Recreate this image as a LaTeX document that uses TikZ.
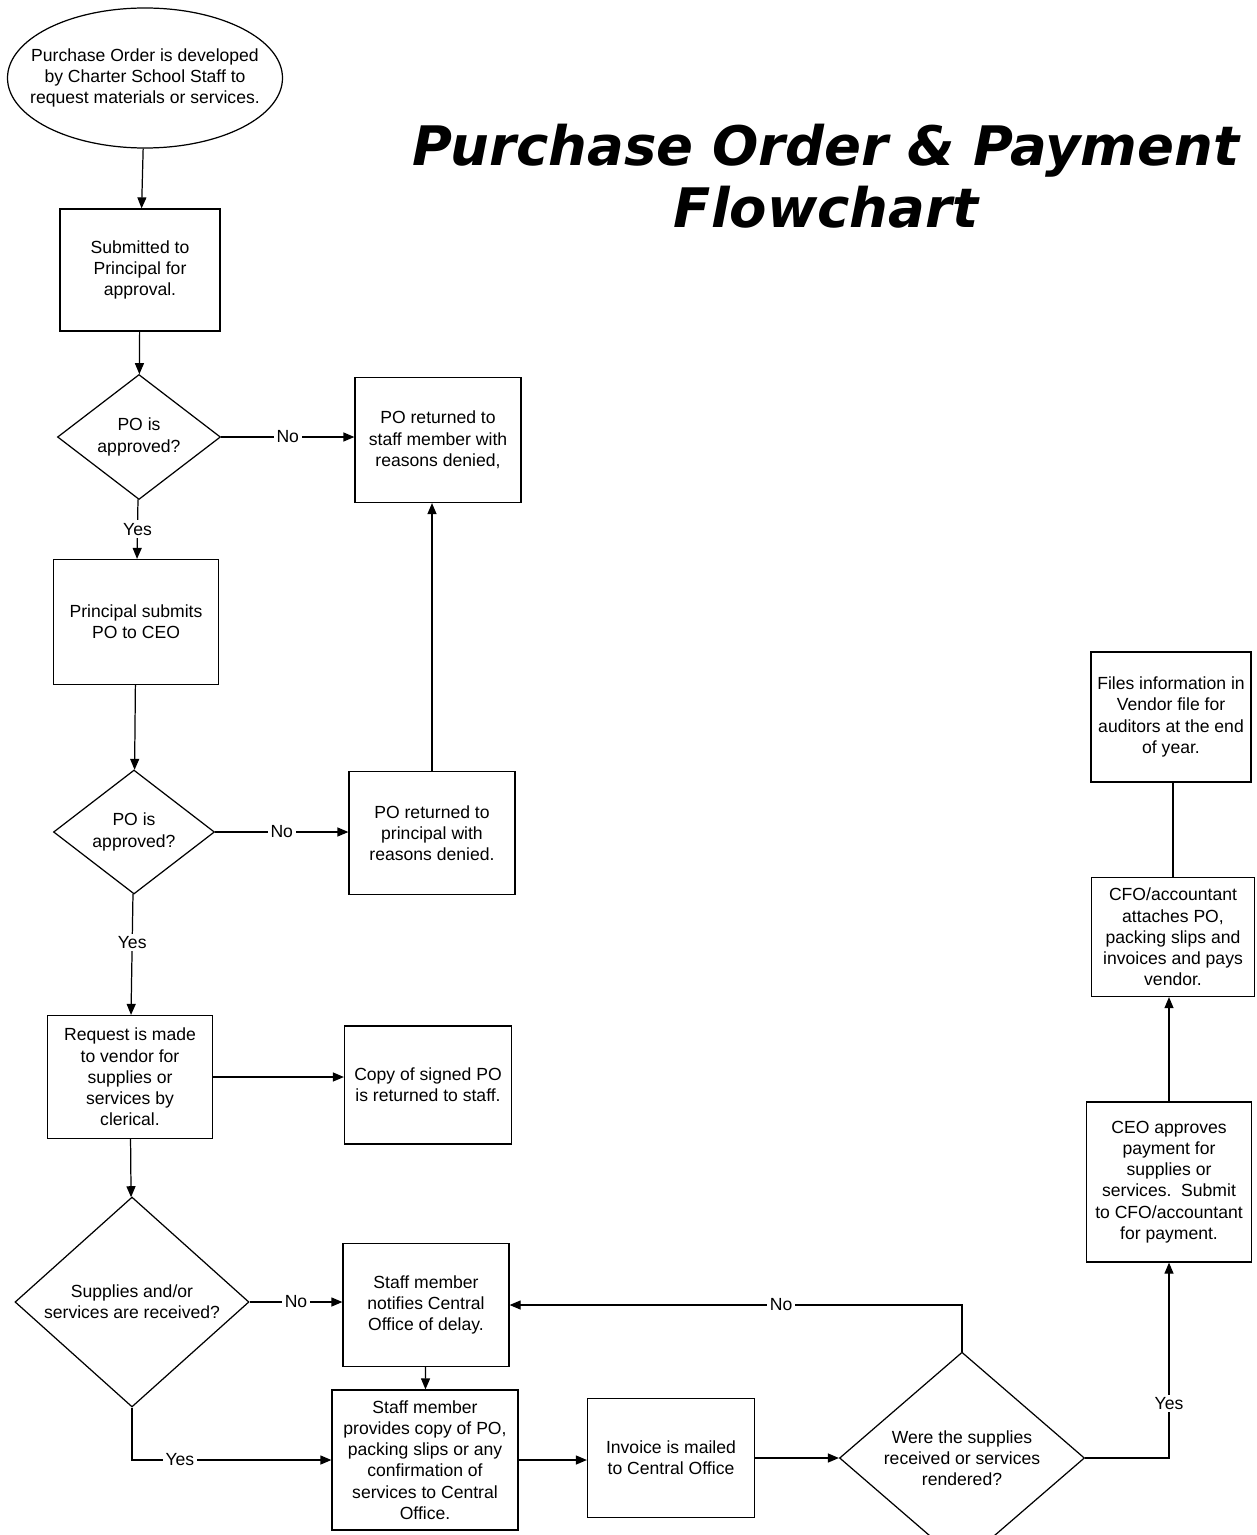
\documentclass[tikz,border=0pt]{standalone}
\usepackage{fontspec}
\setmainfont{Liberation Sans}
\newfontfamily\titlefont{DejaVu Sans}
\usetikzlibrary{arrows.meta,shapes.geometric}
\tikzset{
	box/.style={draw, line width=0.7pt, rectangle, align=center, inner sep=2pt, font=\fontsize{10}{12.1}\selectfont},
	terminal/.style={draw, line width=0.7pt, ellipse, align=center, inner xsep=-10pt, inner ysep=0pt, font=\fontsize{10}{12.1}\selectfont},
	decision/.style={draw, line width=0.7pt, diamond, align=center, inner sep=0pt, font=\fontsize{10}{12.1}\selectfont},
	flow/.style={line width=0.7pt, -{Triangle[length=2.2mm,width=1.8mm]}},
	answer/.style={fill=white, inner sep=1.5pt, font=\fontsize{10}{12}\selectfont}
}

\begin{document}
\begin{tikzpicture}[x=0.2mm, y=-0.2mm]
		%%%%% START %%%%%
		\useasboundingbox (0,0) rectangle (1256,1535);
		
		\node[font=\titlefont\fontsize{31}{35}\selectfont\bfseries\itshape, align=center] (title) at (826,176) {Purchase Order \& Payment\\Flowchart};
		
		\node[terminal, minimum width=55mm, minimum height=28mm] (start) at (145,78) {Purchase Order is developed\\by Charter School Staff to\\request materials or services.};
		
		\node[box, minimum width=32mm, minimum height=24.4mm] (submit) at (140,270) {Submitted to\\Principal for\\approval.};
		\node[decision, minimum width=32.6mm, minimum height=25mm] (okone) at (139,437) {PO is\\approved?};
		\node[box, minimum width=33.2mm, minimum height=25mm] (backstaff) at (438,440) {PO returned to\\staff member with\\reasons denied,};
		
		\node[box, minimum width=33mm, minimum height=25mm] (toceo) at (136,622) {Principal submits\\PO to CEO};
		\node[decision, minimum width=32.2mm, minimum height=24.8mm] (oktwo) at (134,832) {PO is\\approved?};
		\node[box, minimum width=33.2mm, minimum height=24.6mm] (backprin) at (432,833) {PO returned to\\principal with\\reasons denied.};
		
		\node[box, minimum width=33mm, minimum height=24.6mm] (request) at (130,1077) {Request is made\\to vendor for\\supplies or\\services by\\clerical.};
		\node[box, minimum width=33.4mm, minimum height=23.6mm] (copy) at (428,1085) {Copy of signed PO\\is returned to staff.};
		
		\node[decision, minimum width=46.8mm, minimum height=35.8mm] (received) at (132,1302) {Supplies and/or\\services are received?};
		\node[box, minimum width=33.2mm, minimum height=24.6mm] (delay) at (426,1305) {Staff member\\notifies Central\\Office of delay.};
		\node[box, minimum width=37.2mm, minimum height=28mm] (provide) at (425,1460) {Staff member\\provides copy of PO,\\packing slips or any\\confirmation of\\services to Central\\Office.};
		\node[box, minimum width=33.4mm, minimum height=23.8mm] (invoice) at (671,1458) {Invoice is mailed\\to Central Office};
		\node[decision, minimum width=49mm, minimum height=30.4mm] (rendered) at (962,1458) {Were the supplies\\received or services\\rendered?};
		
		\node[box, minimum width=33mm, minimum height=32mm] (ceo) at (1169,1182) {CEO approves\\payment for\\supplies or\\services.\ \ Submit\\to CFO/accountant\\for payment.};
		\node[box, minimum width=32.6mm, minimum height=23.8mm] (cfo) at (1173,937) {CFO/accountant\\attaches PO,\\packing slips and\\invoices and pays\\vendor.};
		\node[box, minimum width=32mm, minimum height=26mm] (files) at (1171,717) {Files information in\\Vendor file for\\auditors at the end\\of year.};
		
		% main column
		\draw[flow] (start) -- (submit);
		\draw[flow] (submit) -- (okone);
		\draw[flow] (okone.east) -- (okone.east -| backstaff.west) node[answer, midway] {No};
		\draw[flow] (okone) -- (toceo) node[answer, midway] {Yes};
		\draw[flow] (toceo) -- (oktwo);
		\draw[flow] (oktwo.east) -- (oktwo.east -| backprin.west) node[answer, midway] {No};
		\draw[flow] (backprin.north) -- (backprin.north |- backstaff.south);
		\draw[flow] (oktwo) -- (request) node[answer, pos=0.4] {Yes};
		\draw[flow] (request.east) -- (request.east -| copy.west);
		\draw[flow] (request) -- (received);
		
		% delivery
		\draw[flow] (received.east) -- (received.east -| delay.west) node[answer, midway] {No};
		\draw[flow] (delay) -- (provide);
		\draw[flow] (received.south) |- (provide.west) node[answer, pos=0.62] {Yes};
		\draw[flow] (provide.east) -- (provide.east -| invoice.west);
		\draw[flow] (invoice.east) -- (invoice.east -| rendered.west);
		\draw[flow] (rendered.north) |- (delay.east) node[answer, pos=0.7] {No};
		
		% payment
		\draw[flow] (rendered.east) -| (ceo.south) node[answer, pos=0.64] {Yes};
		\draw[flow] (ceo.north) -- (ceo.north |- cfo.south);
		\draw[line width=0.7pt] (cfo.north) -- (cfo.north |- files.south);
		
		%%%%% END %%%%%
	\end{tikzpicture}
\end{document}
